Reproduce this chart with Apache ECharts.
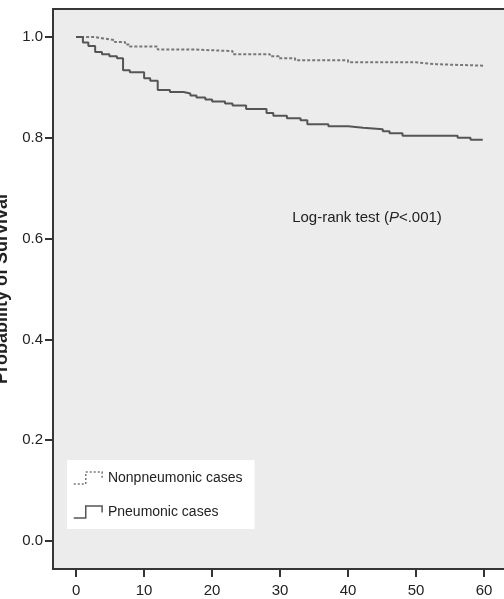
<!DOCTYPE html>
<html><head><meta charset="utf-8">
<script src="https://cdn.jsdelivr.net/npm/echarts@6/dist/echarts.min.js"></script>
<style>html,body{margin:0;padding:0;background:#fff;overflow:hidden}#c{width:504px;height:599px}</style>
</head><body><div id="c"></div>
<script>
// Months of follow-up (step times) and survival probabilities
const pneumonicTimes    = [0, 1.0, 1.8, 2.8, 3.8, 4.9, 6.0, 6.9, 7.9, 10.0, 10.9, 12.0, 13.8, 15.8, 16.8, 17.7, 19.0, 20.0, 21.9, 23.0, 25.0, 28.0, 29.0, 31.0, 33.0, 34.0, 37.1, 40.0, 42.2, 45.1, 46.1, 48.0, 56.1, 58.0, 59.8];
const pneumonicSurvival = [1.0, 0.989, 0.982, 0.970, 0.966, 0.962, 0.958, 0.934, 0.930, 0.918, 0.913, 0.895, 0.891, 0.888, 0.884, 0.880, 0.876, 0.872, 0.868, 0.864, 0.857, 0.849, 0.844, 0.839, 0.835, 0.827, 0.823, 0.820, 0.817, 0.813, 0.809, 0.804, 0.800, 0.796, 0.796];
const nonpneumonicTimes    = [0, 2.8, 4.0, 5.7, 7.2, 7.9, 12.0, 17.7, 23.0, 28.5, 29.8, 32.2, 40.0, 49.9, 51.3, 53.0, 60.1];
const nonpneumonicSurvival = [1.0, 0.997, 0.994, 0.990, 0.985, 0.981, 0.975, 0.972, 0.966, 0.962, 0.958, 0.954, 0.950, 0.948, 0.946, 0.943, 0.943];
const seriesNames = ['Nonpneumonic cases', 'Pneumonic cases'];
const xTickValues = [0, 10, 20, 30, 40, 50, 60];
const yTickValues = [0.0, 0.2, 0.4, 0.6, 0.8, 1.0];
const yAxisTitle = 'Probability of Survival';
const testLabel = ['Log-rank test (', 'P', '<.001)'];

const FONT = 'Liberation Sans, Arial, Helvetica, sans-serif';
const chart = echarts.init(document.getElementById('c'), null, {renderer: 'canvas'});
const toPairs = (ts, vs) => ts.map((t, i) => [t, vs[i]]);

chart.setOption({
  animation: false,
  backgroundColor: '#ffffff',
  grid: {
    left: 53, top: 9, width: 465.12, height: 560,
    outerBoundsMode: 'none', containLabel: false,
    show: true, backgroundColor: '#ececec', borderColor: '#363636', borderWidth: 2
  },
  xAxis: {
    type: 'value', min: -3.4, max: 65,
    splitLine: {show: false},
    axisLine: {show: false, onZero: false},
    axisTick: {show: true, customValues: xTickValues, length: 8, lineStyle: {color: '#333', width: 2}},
    axisLabel: {customValues: xTickValues, fontSize: 15, color: '#222', fontFamily: FONT, margin: 14}
  },
  yAxis: {
    type: 'value', min: -0.05556, max: 1.05556,
    name: yAxisTitle, nameLocation: 'middle', nameGap: 40.5,
    nameTextStyle: {fontSize: 18, fontWeight: 'bold', color: '#222', fontFamily: FONT},
    splitLine: {show: false},
    axisLine: {show: false, onZero: false},
    axisTick: {show: true, customValues: yTickValues, length: 8, lineStyle: {color: '#333', width: 2}},
    axisLabel: {customValues: yTickValues, fontSize: 15, color: '#222', fontFamily: FONT, margin: 10,
                formatter: v => v.toFixed(1)}
  },
  legend: {
    orient: 'vertical', left: 67, top: 460,
    backgroundColor: '#ffffff', padding: [11, 12, 10, 6],
    itemGap: 20, itemWidth: 30, itemHeight: 12, selectedMode: false,
    textStyle: {fontSize: 14, color: '#222', fontFamily: FONT},
    data: [
      {name: seriesNames[0], icon: 'path://M0,11L11,11L11,0L26,0L26,6',
       itemStyle: {color: 'rgba(0,0,0,0)', borderColor: '#777', borderWidth: 1.5, borderType: [2, 2]}},
      {name: seriesNames[1], icon: 'path://M0,11L11,11L11,0L26,0L26,6',
       itemStyle: {color: 'rgba(0,0,0,0)', borderColor: '#555', borderWidth: 1.5}}
    ]
  },
  graphic: [{
    type: 'text', x: 367, y: 218, z: 10,
    style: {
      text: '{n|' + testLabel[0] + '}{i|' + testLabel[1] + '}{n|' + testLabel[2] + '}',
      rich: {
        n: {fontSize: 15, fontFamily: FONT, fill: '#222', color: '#222'},
        i: {fontSize: 15, fontFamily: FONT, fontStyle: 'italic', fill: '#222', color: '#222'}
      },
      align: 'center', verticalAlign: 'middle', fill: '#222'
    }
  }],
  series: [
    {name: seriesNames[0], type: 'line', step: 'end', symbol: 'none', z: 3,
     data: toPairs(nonpneumonicTimes, nonpneumonicSurvival),
     itemStyle: {color: '#777'}, lineStyle: {color: '#777', width: 2, type: [3, 2]}},
    {name: seriesNames[1], type: 'line', step: 'end', symbol: 'none', z: 4,
     data: toPairs(pneumonicTimes, pneumonicSurvival),
     itemStyle: {color: '#555'}, lineStyle: {color: '#555', width: 2}}
  ]
});
</script></body></html>
